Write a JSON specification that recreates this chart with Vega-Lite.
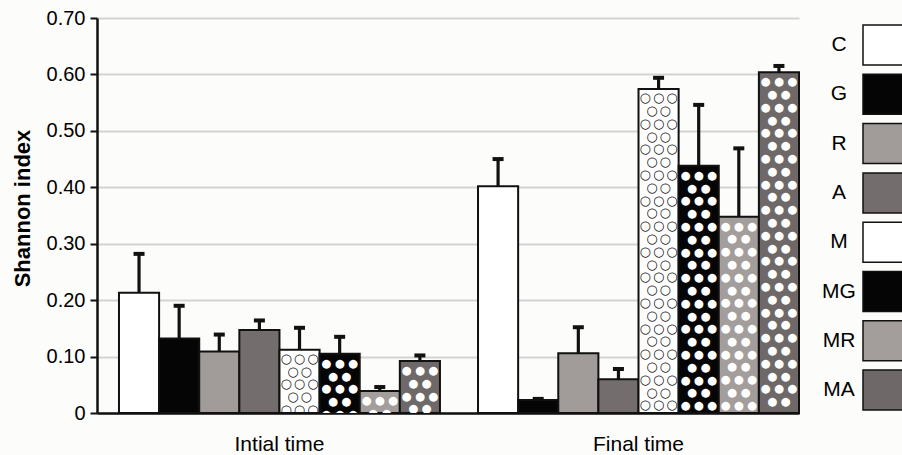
{
  "$schema": "https://vega.github.io/schema/vega-lite/v6.json",
  "autosize": {"type": "none"},
  "padding": {"left": 97, "top": 18, "right": 103, "bottom": 42},
  "width": 702,
  "height": 395,
  "background": "#fcfcfa",
  "config": {
    "font": "Liberation Sans",
    "view": {"stroke": null}
  },
  "data": {
    "values": [
      {"time": "Intial time", "treatment": "C", "mean": 0.213, "upper": 0.282},
      {"time": "Intial time", "treatment": "G", "mean": 0.132, "upper": 0.190},
      {"time": "Intial time", "treatment": "R", "mean": 0.109, "upper": 0.139},
      {"time": "Intial time", "treatment": "A", "mean": 0.147, "upper": 0.164},
      {"time": "Intial time", "treatment": "M", "mean": 0.112, "upper": 0.151},
      {"time": "Intial time", "treatment": "MG", "mean": 0.105, "upper": 0.135},
      {"time": "Intial time", "treatment": "MR", "mean": 0.039, "upper": 0.046},
      {"time": "Intial time", "treatment": "MA", "mean": 0.092, "upper": 0.102},
      {"time": "Final time", "treatment": "C", "mean": 0.402, "upper": 0.450},
      {"time": "Final time", "treatment": "G", "mean": 0.023, "upper": 0.025},
      {"time": "Final time", "treatment": "R", "mean": 0.106, "upper": 0.152},
      {"time": "Final time", "treatment": "A", "mean": 0.060, "upper": 0.078},
      {"time": "Final time", "treatment": "M", "mean": 0.574, "upper": 0.594},
      {"time": "Final time", "treatment": "MG", "mean": 0.438, "upper": 0.546},
      {"time": "Final time", "treatment": "MR", "mean": 0.348, "upper": 0.469},
      {"time": "Final time", "treatment": "MA", "mean": 0.604, "upper": 0.615}
    ]
  },
  "encoding": {
    "x": {
      "field": "time", "type": "nominal",
      "scale": {"domain": ["Intial time", "Final time"], "paddingInner": 0.106, "paddingOuter": 0.0306, "align": 1},
      "axis": {"title": null, "labelAngle": 0, "labelFontSize": 21, "labelColor": "#000", "labelPadding": 20, "ticks": false, "tickSize": 0, "domainColor": "#111", "domainWidth": 2.5, "grid": false}
    },
    "xOffset": {
      "field": "treatment", "type": "nominal",
      "scale": {"domain": ["C", "G", "R", "A", "M", "MG", "MR", "MA"], "paddingInner": 0, "paddingOuter": 0}
    }
  },
  "layer": [
    {
      "mark": {"type": "bar", "stroke": "#111", "strokeWidth": 2},
      "encoding": {
        "y": {
          "field": "mean", "type": "quantitative", "title": "Shannon index",
          "scale": {"domain": [0, 0.7], "nice": false},
          "axis": {
            "values": [0, 0.1, 0.2, 0.3, 0.4, 0.5, 0.6, 0.7],
            "labelExpr": "datum.value == 0 ? '0' : format(datum.value, '.2f')",
            "labelFontSize": 20, "labelColor": "#000", "labelPadding": 5,
            "tickSize": 7, "tickWidth": 2, "tickColor": "#111",
            "domainColor": "#111", "domainWidth": 2.5,
            "gridColor": "#d3d3d3", "gridWidth": 2,
            "titleFontSize": 22, "titleFontWeight": "bold", "titleColor": "#000",
            "titleAngle": -90, "titleBaseline": "alphabetic", "titleAlign": "center",
            "titleX": -68, "titleY": 190
          }
        },
        "fill": {
          "field": "treatment", "type": "nominal",
          "scale": {"domain": ["C", "G", "R", "A", "M", "MG", "MR", "MA"],
                    "range": ["#ffffff", "#050505", "#a19b99", "#736e6d", "#ffffff", "#050505", "#a39d9b", "#6e6968"]},
          "legend": {
            "title": null, "orient": "none", "legendX": 765, "legendY": 6,
            "symbolType": "square", "symbolSize": 1600, "symbolStrokeColor": "#111", "symbolStrokeWidth": 1.5,
            "symbolOpacity": 1,
            "labelFontSize": 21, "labelColor": "#000", "labelAlign": "center", "labelOffset": -65,
            "rowPadding": 3.3, "padding": 0
          }
        }
      }
    },
    {
      "transform": [{"filter": {"field": "treatment", "oneOf": ["M"]}}],
      "mark": {"type": "text", "font": "DejaVu Sans", "fontSize": 13, "fill": "#111", "align": "center", "baseline": "top", "lineHeight": 25.6, "dx": -13.3, "dy": 3.1, "clip": true},
      "encoding": {
        "y": {"field": "mean", "type": "quantitative", "title": "Shannon index"},
        "text": {
          "condition": [
            {"test": "datum.mean < 0.05", "value": ["○"]},
            {"test": "datum.mean < 0.1", "value": ["○","○"]},
            {"test": "datum.mean < 0.2", "value": ["○","○","○"]},
            {"test": "datum.mean < 0.4", "value": ["○","○","○","○","○","○","○","○"]},
            {"test": "datum.mean < 0.5", "value": ["○","○","○","○","○","○","○","○","○","○"]}
          ],
          "value": ["○","○","○","○","○","○","○","○","○","○","○","○","○"]
        }
      }
    },
    {
      "transform": [{"filter": {"field": "treatment", "oneOf": ["M"]}}],
      "mark": {"type": "text", "font": "DejaVu Sans", "fontSize": 13, "fill": "#111", "align": "center", "baseline": "top", "lineHeight": 25.6, "dx": 0, "dy": 3.1, "clip": true},
      "encoding": {
        "y": {"field": "mean", "type": "quantitative", "title": "Shannon index"},
        "text": {
          "condition": [
            {"test": "datum.mean < 0.05", "value": ["○"]},
            {"test": "datum.mean < 0.1", "value": ["○","○"]},
            {"test": "datum.mean < 0.2", "value": ["○","○","○"]},
            {"test": "datum.mean < 0.4", "value": ["○","○","○","○","○","○","○","○"]},
            {"test": "datum.mean < 0.5", "value": ["○","○","○","○","○","○","○","○","○","○"]}
          ],
          "value": ["○","○","○","○","○","○","○","○","○","○","○","○","○"]
        }
      }
    },
    {
      "transform": [{"filter": {"field": "treatment", "oneOf": ["M"]}}],
      "mark": {"type": "text", "font": "DejaVu Sans", "fontSize": 13, "fill": "#111", "align": "center", "baseline": "top", "lineHeight": 25.6, "dx": 13.3, "dy": 3.1, "clip": true},
      "encoding": {
        "y": {"field": "mean", "type": "quantitative", "title": "Shannon index"},
        "text": {
          "condition": [
            {"test": "datum.mean < 0.05", "value": ["○"]},
            {"test": "datum.mean < 0.1", "value": ["○","○"]},
            {"test": "datum.mean < 0.2", "value": ["○","○","○"]},
            {"test": "datum.mean < 0.4", "value": ["○","○","○","○","○","○","○","○"]},
            {"test": "datum.mean < 0.5", "value": ["○","○","○","○","○","○","○","○","○","○"]}
          ],
          "value": ["○","○","○","○","○","○","○","○","○","○","○","○","○"]
        }
      }
    },
    {
      "transform": [{"filter": {"field": "treatment", "oneOf": ["M"]}}],
      "mark": {"type": "text", "font": "DejaVu Sans", "fontSize": 13, "fill": "#111", "align": "center", "baseline": "top", "lineHeight": 25.6, "dx": -6.7, "dy": 15.9, "clip": true},
      "encoding": {
        "y": {"field": "mean", "type": "quantitative", "title": "Shannon index"},
        "text": {
          "condition": [
            {"test": "datum.mean < 0.05", "value": ["○"]},
            {"test": "datum.mean < 0.2", "value": ["○","○"]},
            {"test": "datum.mean < 0.4", "value": ["○","○","○","○","○","○","○"]},
            {"test": "datum.mean < 0.5", "value": ["○","○","○","○","○","○","○","○","○"]}
          ],
          "value": ["○","○","○","○","○","○","○","○","○","○","○","○"]
        }
      }
    },
    {
      "transform": [{"filter": {"field": "treatment", "oneOf": ["M"]}}],
      "mark": {"type": "text", "font": "DejaVu Sans", "fontSize": 13, "fill": "#111", "align": "center", "baseline": "top", "lineHeight": 25.6, "dx": 6.7, "dy": 15.9, "clip": true},
      "encoding": {
        "y": {"field": "mean", "type": "quantitative", "title": "Shannon index"},
        "text": {
          "condition": [
            {"test": "datum.mean < 0.05", "value": ["○"]},
            {"test": "datum.mean < 0.2", "value": ["○","○"]},
            {"test": "datum.mean < 0.4", "value": ["○","○","○","○","○","○","○"]},
            {"test": "datum.mean < 0.5", "value": ["○","○","○","○","○","○","○","○","○"]}
          ],
          "value": ["○","○","○","○","○","○","○","○","○","○","○","○"]
        }
      }
    },
    {
      "transform": [{"filter": {"field": "treatment", "oneOf": ["MG", "MR", "MA"]}}],
      "mark": {"type": "text", "font": "DejaVu Sans", "fontSize": 11.5, "fill": "#ffffff", "align": "center", "baseline": "top", "lineHeight": 25.6, "dx": -13.3, "dy": 4, "clip": true},
      "encoding": {
        "y": {"field": "mean", "type": "quantitative", "title": "Shannon index"},
        "text": {
          "condition": [
            {"test": "datum.mean < 0.05", "value": ["●"]},
            {"test": "datum.mean < 0.1", "value": ["●","●"]},
            {"test": "datum.mean < 0.2", "value": ["●","●","●"]},
            {"test": "datum.mean < 0.4", "value": ["●","●","●","●","●","●","●","●"]},
            {"test": "datum.mean < 0.5", "value": ["●","●","●","●","●","●","●","●","●","●"]}
          ],
          "value": ["●","●","●","●","●","●","●","●","●","●","●","●","●"]
        }
      }
    },
    {
      "transform": [{"filter": {"field": "treatment", "oneOf": ["MG", "MR", "MA"]}}],
      "mark": {"type": "text", "font": "DejaVu Sans", "fontSize": 11.5, "fill": "#ffffff", "align": "center", "baseline": "top", "lineHeight": 25.6, "dx": 0, "dy": 4, "clip": true},
      "encoding": {
        "y": {"field": "mean", "type": "quantitative", "title": "Shannon index"},
        "text": {
          "condition": [
            {"test": "datum.mean < 0.05", "value": ["●"]},
            {"test": "datum.mean < 0.1", "value": ["●","●"]},
            {"test": "datum.mean < 0.2", "value": ["●","●","●"]},
            {"test": "datum.mean < 0.4", "value": ["●","●","●","●","●","●","●","●"]},
            {"test": "datum.mean < 0.5", "value": ["●","●","●","●","●","●","●","●","●","●"]}
          ],
          "value": ["●","●","●","●","●","●","●","●","●","●","●","●","●"]
        }
      }
    },
    {
      "transform": [{"filter": {"field": "treatment", "oneOf": ["MG", "MR", "MA"]}}],
      "mark": {"type": "text", "font": "DejaVu Sans", "fontSize": 11.5, "fill": "#ffffff", "align": "center", "baseline": "top", "lineHeight": 25.6, "dx": 13.3, "dy": 4, "clip": true},
      "encoding": {
        "y": {"field": "mean", "type": "quantitative", "title": "Shannon index"},
        "text": {
          "condition": [
            {"test": "datum.mean < 0.05", "value": ["●"]},
            {"test": "datum.mean < 0.1", "value": ["●","●"]},
            {"test": "datum.mean < 0.2", "value": ["●","●","●"]},
            {"test": "datum.mean < 0.4", "value": ["●","●","●","●","●","●","●","●"]},
            {"test": "datum.mean < 0.5", "value": ["●","●","●","●","●","●","●","●","●","●"]}
          ],
          "value": ["●","●","●","●","●","●","●","●","●","●","●","●","●"]
        }
      }
    },
    {
      "transform": [{"filter": {"field": "treatment", "oneOf": ["MG", "MR", "MA"]}}],
      "mark": {"type": "text", "font": "DejaVu Sans", "fontSize": 11.5, "fill": "#ffffff", "align": "center", "baseline": "top", "lineHeight": 25.6, "dx": -6.7, "dy": 16.8, "clip": true},
      "encoding": {
        "y": {"field": "mean", "type": "quantitative", "title": "Shannon index"},
        "text": {
          "condition": [
            {"test": "datum.mean < 0.05", "value": ["●"]},
            {"test": "datum.mean < 0.2", "value": ["●","●"]},
            {"test": "datum.mean < 0.4", "value": ["●","●","●","●","●","●","●"]},
            {"test": "datum.mean < 0.5", "value": ["●","●","●","●","●","●","●","●","●"]}
          ],
          "value": ["●","●","●","●","●","●","●","●","●","●","●","●","●"]
        }
      }
    },
    {
      "transform": [{"filter": {"field": "treatment", "oneOf": ["MG", "MR", "MA"]}}],
      "mark": {"type": "text", "font": "DejaVu Sans", "fontSize": 11.5, "fill": "#ffffff", "align": "center", "baseline": "top", "lineHeight": 25.6, "dx": 6.7, "dy": 16.8, "clip": true},
      "encoding": {
        "y": {"field": "mean", "type": "quantitative", "title": "Shannon index"},
        "text": {
          "condition": [
            {"test": "datum.mean < 0.05", "value": ["●"]},
            {"test": "datum.mean < 0.2", "value": ["●","●"]},
            {"test": "datum.mean < 0.4", "value": ["●","●","●","●","●","●","●"]},
            {"test": "datum.mean < 0.5", "value": ["●","●","●","●","●","●","●","●","●"]}
          ],
          "value": ["●","●","●","●","●","●","●","●","●","●","●","●","●"]
        }
      }
    },
    {
      "mark": {"type": "rule", "color": "#111", "strokeWidth": 3.2},
      "encoding": {
        "y": {"field": "mean", "type": "quantitative", "title": "Shannon index"},
        "y2": {"field": "upper"}
      }
    },
    {
      "mark": {"type": "tick", "orient": "horizontal", "color": "#111", "size": 11, "thickness": 4, "opacity": 1},
      "encoding": {
        "y": {"field": "upper", "type": "quantitative", "title": "Shannon index"}
      }
    }
  ]
}
